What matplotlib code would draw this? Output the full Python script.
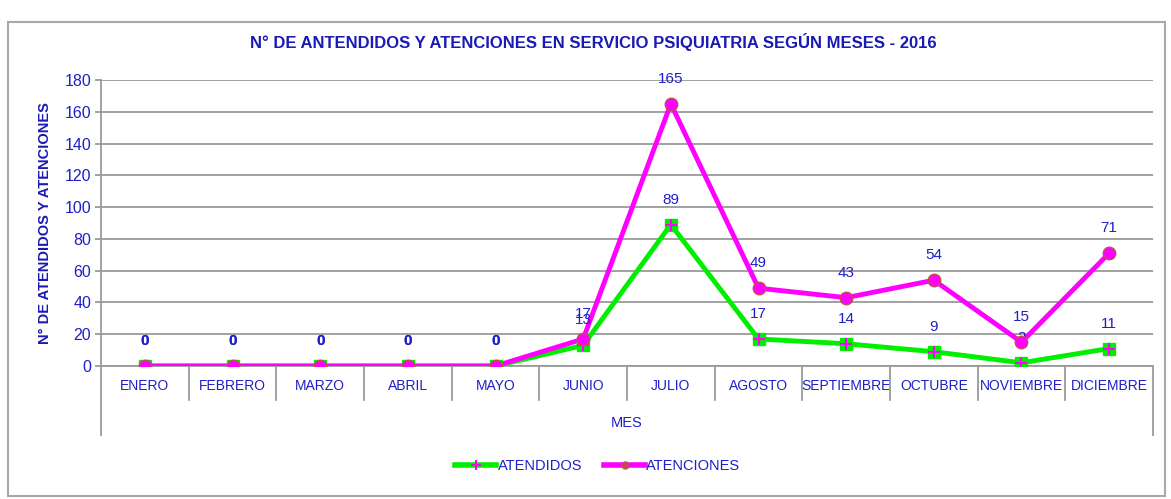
import numpy as np
import matplotlib
matplotlib.use('Agg')
import matplotlib.pyplot as plt
from matplotlib.patches import Rectangle
from matplotlib.lines import Line2D

plt.rcParams['font.family'] = ['Liberation Sans', 'DejaVu Sans']

meses = ['ENERO', 'FEBRERO', 'MARZO', 'ABRIL', 'MAYO', 'JUNIO', 'JULIO',
         'AGOSTO', 'SEPTIEMBRE', 'OCTUBRE', 'NOVIEMBRE', 'DICIEMBRE']
atendidos = [0, 0, 0, 0, 0, 13, 89, 17, 14, 9, 2, 11]
atenciones = [0, 0, 0, 0, 0, 17, 165, 49, 43, 54, 15, 71]

blue = '#1f1fc8'
navy = '#1a1ab4'
grey = '#9a9a9a'

fig = plt.figure(figsize=(11.71, 4.99), dpi=100)
# chart frame
fig.patches.append(Rectangle((8/1171, 3/499), 1157/1171, 474/499,
                             transform=fig.transFigure, fill=False,
                             edgecolor='#a8a8a8', lw=1.5))

ax = fig.add_axes([101/1171, 1 - 366/499, 1052/1171, 286/499])
x = np.arange(len(meses))

ax.set_xlim(-0.5, len(meses) - 0.5)
ax.set_ylim(0, 180)
ax.set_yticks(np.arange(0, 181, 20))
ax.yaxis.grid(True, color=grey, lw=1.3)
ax.set_axisbelow(True)
for s in ['top', 'right']:
    ax.spines[s].set_visible(False)
for s in ['left', 'bottom']:
    ax.spines[s].set_color(grey)
    ax.spines[s].set_linewidth(1.3)
ax.tick_params(axis='y', colors=grey, length=4, width=1.3, labelsize=11.5,
               labelcolor=blue, pad=3)
ax.set_xticks(x)
ax.set_xticklabels(meses)
ax.tick_params(axis='x', length=0, labelsize=10, labelcolor=blue, pad=9)

# category boxes
tr = ax.get_xaxis_transform()
for b in np.arange(-0.5, len(meses), 1.0):
    low = -0.241 if b in (-0.5, len(meses) - 0.5) else -0.119
    ax.plot([b, b], [0, low], color=grey, lw=1.3, transform=tr, clip_on=False)
ax.text((len(meses) - 1) / 2, -0.2, 'MES', transform=tr, ha='center',
        va='center', color=blue, fontsize=10.5)

# lines
ax.plot(x, atendidos, color='#00ee00', lw=3.5, zorder=3)
ax.plot(x, atendidos, 's', color='#00ee00', ms=8, zorder=4)
ax.plot(x, atendidos, '+', color='#ff00ff', ms=9, mew=1.5, zorder=5)
ax.plot(x, atenciones, color='#ff00ff', lw=3.5, zorder=3)
ax.plot(x, atenciones, 'o', color='#ff00ff', mec='#c05050', ms=9, mew=1,
        zorder=6)

for series in (atendidos, atenciones):
    for xi, v in zip(x, series):
        ax.annotate(str(v), (xi, v), xytext=(0, 18), textcoords='offset points',
                    ha='center', va='center', color=blue, fontsize=11,
                    fontweight='bold' if v == 0 else 'normal')

ax.set_ylabel('N° DE ATENDIDOS Y ATENCIONES', color=navy, fontsize=10.5,
              fontweight='bold', labelpad=9)

fig.text(593/1171, 1 - 42/499,
         'N° DE ANTENDIDOS Y ATENCIONES EN SERVICIO PSIQUIATRIA SEGÚN MESES - 2016',
         ha='center', va='center', color=navy, fontsize=12, fontweight='bold')

# legend
h1 = Line2D([], [], color='#00ee00', lw=4, marker='+', mec='#ff00ff', ms=7, mew=1.5)
h2 = Line2D([], [], color='#ff00ff', lw=4, marker='o', mfc='#d04060',
            mec='#c05050', ms=5)
fig.legend([h1, h2], ['ATENDIDOS', 'ATENCIONES'], loc='center',
           bbox_to_anchor=(598/1171, 1 - 466/499), ncol=2, frameon=False,
           fontsize=10.5, labelcolor=blue, handlelength=2.8, columnspacing=1.5,
           handletextpad=0.1)

fig.savefig('out.png', dpi=100)
